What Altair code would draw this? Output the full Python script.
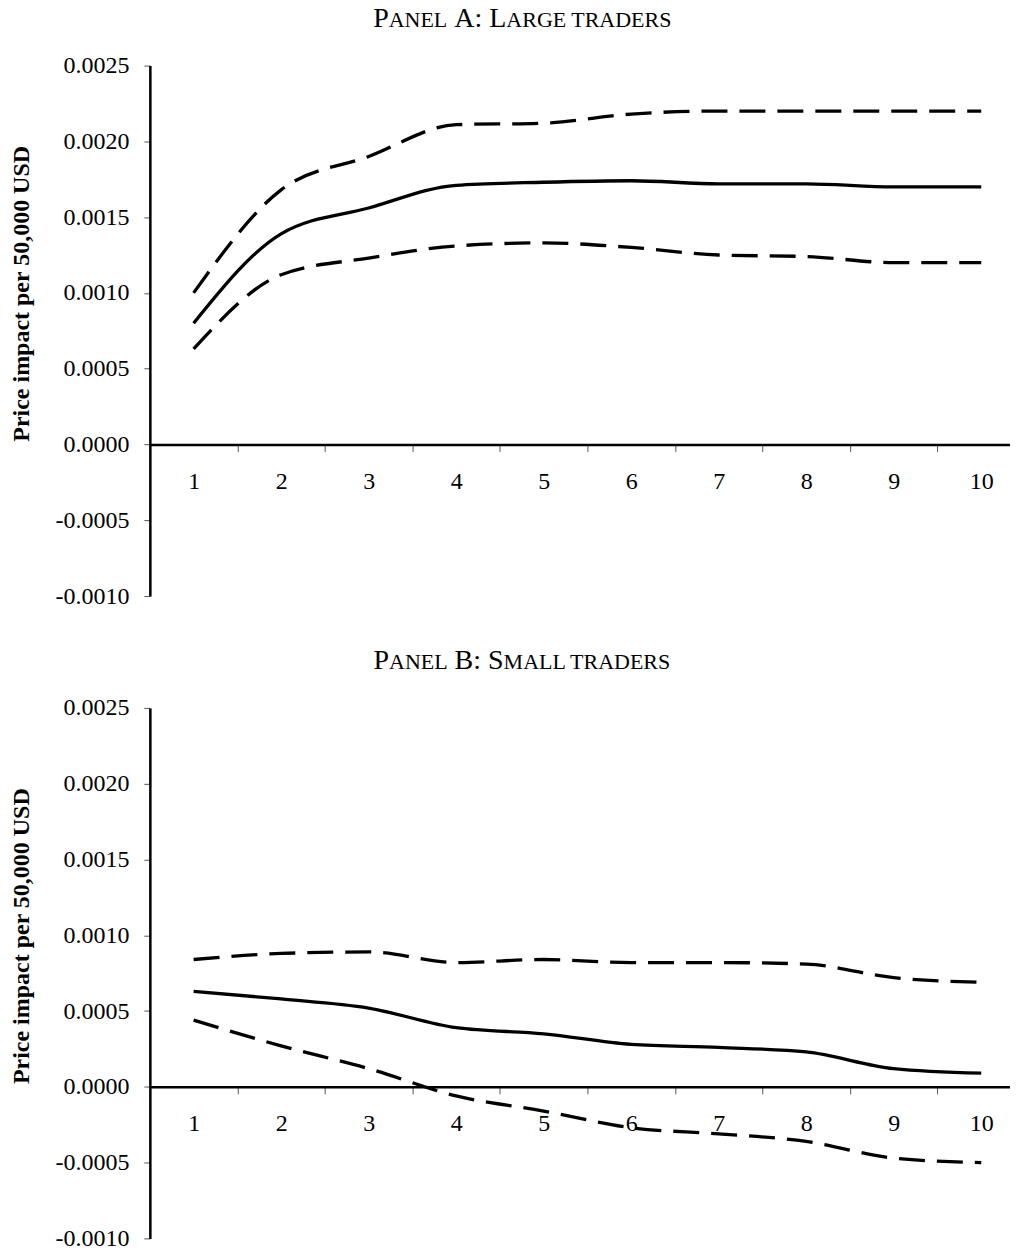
import altair as alt
import pandas as pd

# ---------------- data ----------------
periods = [1, 2, 3, 4, 5, 6, 7, 8, 9, 10]

large_estimate = [0.00080, 0.00139, 0.00156, 0.00171, 0.00173, 0.00174, 0.00172, 0.00172, 0.00170, 0.00170]
large_upper = [0.00100, 0.00168, 0.00190, 0.00211, 0.00212, 0.00218, 0.00220, 0.00220, 0.00220, 0.00220]
large_lower = [0.00063, 0.00112, 0.00123, 0.00131, 0.00133, 0.00130, 0.00125, 0.00124, 0.00120, 0.00120]

small_estimate = [0.00063, 0.00058, 0.00052, 0.00039, 0.00035, 0.00028, 0.00026, 0.00023, 0.00012, 0.00009]
small_upper = [0.00084, 0.00088, 0.00089, 0.00082, 0.00084, 0.00082, 0.00082, 0.00081, 0.00072, 0.00069]
small_lower = [0.00044, 0.00027, 0.00012, -0.00006, -0.00016, -0.00027, -0.00031, -0.00036, -0.00047, -0.00050]

y_ticks = [-0.0010, -0.0005, 0.0, 0.0005, 0.0010, 0.0015, 0.0020, 0.0025]
y_title = "Price impact per 50,000 USD"

# small-caps titles: (text, full-size capital?)
title_a = [("P", True), ("ANEL", False), (" A: L", True), ("ARGE TRADERS", False)]
title_b = [("P", True), ("ANEL", False), (" B: S", True), ("MALL TRADERS", False)]

# ---------------- layout / style ----------------
FONT = "Liberation Serif"
W, H = 861, 531
PX = 87.6                      # pixels per period step
XMAX = 0.5 + W / PX
Y0, Y1 = -0.0010, 0.0025
ZERO_OFFSET = H * (0 - Y0) / (Y1 - Y0)
BIG, SMALL = 28, 22
TITLE_CENTER = 373
TITLE_BASE = -39

# Times / Liberation Serif advance widths (per em)
ADV = {" ": 0.25, ":": 0.278, "A": 0.722, "B": 0.667, "D": 0.722,
       "E": 0.611, "G": 0.722, "L": 0.611, "M": 0.889, "N": 0.722, "P": 0.556,
       "R": 0.667, "S": 0.556, "T": 0.611}


def seg_width(text, size):
    return sum(ADV[c] for c in text) * size


def make_panel(est, up, lo, segs):
    df_est = pd.DataFrame({"period": periods, "value": est})
    df_band = pd.DataFrame({
        "period": periods + periods,
        "value": up + lo,
        "bound": ["upper"] * len(periods) + ["lower"] * len(periods),
    })

    x = alt.X(
        "period:Q",
        scale=alt.Scale(domain=[0.5, XMAX], nice=False, zero=False),
        axis=alt.Axis(
            values=periods, title=None, orient="bottom", offset=-ZERO_OFFSET,
            tickOffset=-PX / 2, labelOffset=PX / 2,
            domainColor="black", domainWidth=2.5,
            tickColor="#555555", tickWidth=1, tickSize=7,
            labelFont=FONT, labelFontSize=24, labelColor="black",
            labelPadding=18, labelFlush=False, labelOverlap=False, grid=False,
        ),
    )
    y = alt.Y(
        "value:Q",
        scale=alt.Scale(domain=[Y0, Y1], nice=False, zero=False),
        axis=alt.Axis(
            values=y_ticks,
            labelExpr="replace(format(datum.value, '.4f'), '\u2212', '-')",
            title=y_title, titleFont=FONT, titleFontSize=24, titleFontWeight="bold",
            titleColor="black", titleAngle=270, titleAlign="center",
            titleBaseline="alphabetic", titleX=-121, titleY=228,
            domainColor="black", domainWidth=2.5,
            tickColor="#555555", tickWidth=1, tickSize=6,
            labelFont=FONT, labelFontSize=24, labelColor="black",
            labelPadding=15, labelOverlap=False, grid=False,
        ),
    )

    est_line = alt.Chart(df_est).mark_line(
        color="black", strokeWidth=3.3, interpolate="monotone"
    ).encode(x=x, y=y)
    band_lines = alt.Chart(df_band).mark_line(
        color="black", strokeWidth=3.3, strokeDash=[26, 12], interpolate="monotone"
    ).encode(x=x, y=y, detail="bound:N")

    layers = [band_lines, est_line]
    sizes = [BIG if big else SMALL for _, big in segs]
    total = sum(seg_width(t, s) for (t, _), s in zip(segs, sizes))
    pos = TITLE_CENTER - total / 2
    for (t, _), s in zip(segs, sizes):
        lead = len(t) - len(t.lstrip(" "))
        shown = t.strip(" ")
        if shown:
            layers.append(
                alt.Chart(pd.DataFrame({"t": [shown]})).mark_text(
                    align="left", baseline="alphabetic", font=FONT, fontSize=s, color="black"
                ).encode(x=alt.value(pos + seg_width(t[:lead], s)),
                         y=alt.value(TITLE_BASE), text="t:N")
            )
        pos += seg_width(t, s)

    return alt.layer(*layers).properties(width=W, height=H)


panel_a = make_panel(large_estimate, large_upper, large_lower, title_a)
panel_b = make_panel(small_estimate, small_upper, small_lower, title_b)

chart = alt.vconcat(panel_a, panel_b, spacing=39).properties(
    padding={"top": -4, "left": 2, "right": 0, "bottom": 0}, background="white"
).configure_view(stroke=None)

chart.save("out.html", embed_options={"renderer": "svg", "actions": False})
